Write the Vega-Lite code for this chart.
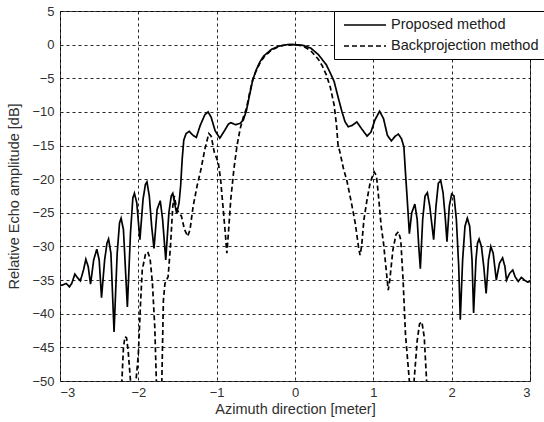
{
  "$schema": "https://vega.github.io/schema/vega-lite/v6.json",
  "width": 470,
  "height": 370,
  "autosize": "none",
  "padding": {"left": 60, "top": 11, "right": 14, "bottom": 41},
  "background": "white",
  "data": {"values": [
    {"method":"Proposed method","x":-3.0,"y":-35.8},{"method":"Proposed method","x":-2.96,"y":-35.7},{"method":"Proposed method","x":-2.92,"y":-35.5},{"method":"Proposed method","x":-2.88,"y":-36.0},{"method":"Proposed method","x":-2.85,"y":-35.5},{"method":"Proposed method","x":-2.81,"y":-34.1},{"method":"Proposed method","x":-2.78,"y":-34.6},{"method":"Proposed method","x":-2.74,"y":-35.1},{"method":"Proposed method","x":-2.70,"y":-33.5},{"method":"Proposed method","x":-2.67,"y":-31.9},{"method":"Proposed method","x":-2.64,"y":-33},{"method":"Proposed method","x":-2.61,"y":-35.6},{"method":"Proposed method","x":-2.57,"y":-32},{"method":"Proposed method","x":-2.53,"y":-30.4},{"method":"Proposed method","x":-2.50,"y":-32},{"method":"Proposed method","x":-2.47,"y":-37.6},{"method":"Proposed method","x":-2.43,"y":-32},{"method":"Proposed method","x":-2.40,"y":-29.5},{"method":"Proposed method","x":-2.38,"y":-28.9},{"method":"Proposed method","x":-2.35,"y":-31},{"method":"Proposed method","x":-2.31,"y":-42.7},{"method":"Proposed method","x":-2.27,"y":-31},{"method":"Proposed method","x":-2.24,"y":-26.5},{"method":"Proposed method","x":-2.22,"y":-25.8},{"method":"Proposed method","x":-2.19,"y":-27.5},{"method":"Proposed method","x":-2.14,"y":-39.0},{"method":"Proposed method","x":-2.10,"y":-28},{"method":"Proposed method","x":-2.07,"y":-22.8},{"method":"Proposed method","x":-2.05,"y":-22.1},{"method":"Proposed method","x":-2.02,"y":-23.5},{"method":"Proposed method","x":-1.98,"y":-29.0},{"method":"Proposed method","x":-1.94,"y":-23},{"method":"Proposed method","x":-1.91,"y":-20.8},{"method":"Proposed method","x":-1.89,"y":-20.4},{"method":"Proposed method","x":-1.86,"y":-22.5},{"method":"Proposed method","x":-1.83,"y":-27},{"method":"Proposed method","x":-1.80,"y":-30.3},{"method":"Proposed method","x":-1.76,"y":-24.5},{"method":"Proposed method","x":-1.72,"y":-23.2},{"method":"Proposed method","x":-1.69,"y":-26},{"method":"Proposed method","x":-1.65,"y":-32.0},{"method":"Proposed method","x":-1.61,"y":-25},{"method":"Proposed method","x":-1.58,"y":-22.5},{"method":"Proposed method","x":-1.56,"y":-22.1},{"method":"Proposed method","x":-1.53,"y":-24},{"method":"Proposed method","x":-1.51,"y":-25.1},{"method":"Proposed method","x":-1.48,"y":-23.5},{"method":"Proposed method","x":-1.46,"y":-21},{"method":"Proposed method","x":-1.44,"y":-17},{"method":"Proposed method","x":-1.42,"y":-14.2},{"method":"Proposed method","x":-1.39,"y":-13.2},{"method":"Proposed method","x":-1.35,"y":-12.9},{"method":"Proposed method","x":-1.30,"y":-13.5},{"method":"Proposed method","x":-1.26,"y":-13.8},{"method":"Proposed method","x":-1.21,"y":-12},{"method":"Proposed method","x":-1.15,"y":-10.4},{"method":"Proposed method","x":-1.11,"y":-10.0},{"method":"Proposed method","x":-1.07,"y":-10.8},{"method":"Proposed method","x":-1.02,"y":-12.8},{"method":"Proposed method","x":-0.96,"y":-13.9},{"method":"Proposed method","x":-0.90,"y":-12.8},{"method":"Proposed method","x":-0.85,"y":-11.8},{"method":"Proposed method","x":-0.82,"y":-11.6},{"method":"Proposed method","x":-0.76,"y":-11.9},{"method":"Proposed method","x":-0.70,"y":-11.7},{"method":"Proposed method","x":-0.66,"y":-11.2},{"method":"Proposed method","x":-0.62,"y":-9.8},{"method":"Proposed method","x":-0.58,"y":-7.5},{"method":"Proposed method","x":-0.54,"y":-5.3},{"method":"Proposed method","x":-0.50,"y":-3.9},{"method":"Proposed method","x":-0.45,"y":-2.6},{"method":"Proposed method","x":-0.40,"y":-1.7},{"method":"Proposed method","x":-0.30,"y":-0.7},{"method":"Proposed method","x":-0.20,"y":-0.2},{"method":"Proposed method","x":-0.10,"y":0},{"method":"Proposed method","x":0,"y":0},{"method":"Proposed method","x":0.1,"y":-0.1},{"method":"Proposed method","x":0.2,"y":-0.5},{"method":"Proposed method","x":0.3,"y":-1.5},{"method":"Proposed method","x":0.4,"y":-3.0},{"method":"Proposed method","x":0.45,"y":-4.2},{"method":"Proposed method","x":0.5,"y":-5.5},{"method":"Proposed method","x":0.55,"y":-7.8},{"method":"Proposed method","x":0.6,"y":-10},{"method":"Proposed method","x":0.64,"y":-11.5},{"method":"Proposed method","x":0.68,"y":-12.2},{"method":"Proposed method","x":0.73,"y":-12.0},{"method":"Proposed method","x":0.79,"y":-11.5},{"method":"Proposed method","x":0.85,"y":-12.5},{"method":"Proposed method","x":0.92,"y":-13.6},{"method":"Proposed method","x":0.97,"y":-13.0},{"method":"Proposed method","x":1.02,"y":-11.2},{"method":"Proposed method","x":1.08,"y":-9.9},{"method":"Proposed method","x":1.13,"y":-11.0},{"method":"Proposed method","x":1.18,"y":-13.5},{"method":"Proposed method","x":1.23,"y":-14.3},{"method":"Proposed method","x":1.28,"y":-13.6},{"method":"Proposed method","x":1.32,"y":-13.3},{"method":"Proposed method","x":1.36,"y":-14},{"method":"Proposed method","x":1.39,"y":-15.2},{"method":"Proposed method","x":1.41,"y":-19},{"method":"Proposed method","x":1.43,"y":-22.5},{"method":"Proposed method","x":1.46,"y":-28.1},{"method":"Proposed method","x":1.49,"y":-25},{"method":"Proposed method","x":1.53,"y":-23.7},{"method":"Proposed method","x":1.56,"y":-26},{"method":"Proposed method","x":1.58,"y":-30},{"method":"Proposed method","x":1.60,"y":-33.3},{"method":"Proposed method","x":1.63,"y":-26},{"method":"Proposed method","x":1.66,"y":-22.5},{"method":"Proposed method","x":1.69,"y":-22},{"method":"Proposed method","x":1.72,"y":-24},{"method":"Proposed method","x":1.75,"y":-27},{"method":"Proposed method","x":1.77,"y":-29},{"method":"Proposed method","x":1.80,"y":-24},{"method":"Proposed method","x":1.83,"y":-20.6},{"method":"Proposed method","x":1.86,"y":-20.2},{"method":"Proposed method","x":1.89,"y":-22},{"method":"Proposed method","x":1.92,"y":-26},{"method":"Proposed method","x":1.94,"y":-29.3},{"method":"Proposed method","x":1.97,"y":-24},{"method":"Proposed method","x":2.00,"y":-22.2},{"method":"Proposed method","x":2.03,"y":-22.5},{"method":"Proposed method","x":2.06,"y":-26},{"method":"Proposed method","x":2.09,"y":-33},{"method":"Proposed method","x":2.11,"y":-40.9},{"method":"Proposed method","x":2.14,"y":-32},{"method":"Proposed method","x":2.17,"y":-27},{"method":"Proposed method","x":2.20,"y":-25.8},{"method":"Proposed method","x":2.23,"y":-27},{"method":"Proposed method","x":2.26,"y":-32},{"method":"Proposed method","x":2.28,"y":-39.9},{"method":"Proposed method","x":2.31,"y":-32},{"method":"Proposed method","x":2.33,"y":-29.5},{"method":"Proposed method","x":2.35,"y":-28.9},{"method":"Proposed method","x":2.38,"y":-30},{"method":"Proposed method","x":2.41,"y":-33},{"method":"Proposed method","x":2.44,"y":-37.0},{"method":"Proposed method","x":2.47,"y":-32},{"method":"Proposed method","x":2.50,"y":-30.0},{"method":"Proposed method","x":2.53,"y":-31},{"method":"Proposed method","x":2.57,"y":-35.0},{"method":"Proposed method","x":2.61,"y":-32.5},{"method":"Proposed method","x":2.65,"y":-31.7},{"method":"Proposed method","x":2.68,"y":-33},{"method":"Proposed method","x":2.70,"y":-35.0},{"method":"Proposed method","x":2.74,"y":-34},{"method":"Proposed method","x":2.78,"y":-33.5},{"method":"Proposed method","x":2.81,"y":-34.5},{"method":"Proposed method","x":2.85,"y":-35.2},{"method":"Proposed method","x":2.89,"y":-34.6},{"method":"Proposed method","x":2.93,"y":-35},{"method":"Proposed method","x":2.97,"y":-35.3},{"method":"Proposed method","x":3.0,"y":-35.2},
    {"method":"Backprojection method","x":-2.26,"y":-60},{"method":"Backprojection method","x":-2.21,"y":-50},{"method":"Backprojection method","x":-2.19,"y":-45},{"method":"Backprojection method","x":-2.17,"y":-43.4},{"method":"Backprojection method","x":-2.15,"y":-43.6},{"method":"Backprojection method","x":-2.13,"y":-45.5},{"method":"Backprojection method","x":-2.10,"y":-50},{"method":"Backprojection method","x":-2.07,"y":-60},{"method":"Backprojection method","x":-2.05,"y":-60},{"method":"Backprojection method","x":-2.03,"y":-50},{"method":"Backprojection method","x":-2.00,"y":-46},{"method":"Backprojection method","x":-1.97,"y":-38},{"method":"Backprojection method","x":-1.95,"y":-33.5},{"method":"Backprojection method","x":-1.91,"y":-31.2},{"method":"Backprojection method","x":-1.88,"y":-30.8},{"method":"Backprojection method","x":-1.85,"y":-31.8},{"method":"Backprojection method","x":-1.82,"y":-35.5},{"method":"Backprojection method","x":-1.79,"y":-42},{"method":"Backprojection method","x":-1.77,"y":-50},{"method":"Backprojection method","x":-1.74,"y":-60},{"method":"Backprojection method","x":-1.72,"y":-60},{"method":"Backprojection method","x":-1.70,"y":-50},{"method":"Backprojection method","x":-1.68,"y":-38},{"method":"Backprojection method","x":-1.66,"y":-35.5},{"method":"Backprojection method","x":-1.62,"y":-34.5},{"method":"Backprojection method","x":-1.59,"y":-30},{"method":"Backprojection method","x":-1.56,"y":-24},{"method":"Backprojection method","x":-1.54,"y":-22.5},{"method":"Backprojection method","x":-1.51,"y":-24.5},{"method":"Backprojection method","x":-1.48,"y":-25},{"method":"Backprojection method","x":-1.45,"y":-25.5},{"method":"Backprojection method","x":-1.41,"y":-27.5},{"method":"Backprojection method","x":-1.37,"y":-28.5},{"method":"Backprojection method","x":-1.34,"y":-27.5},{"method":"Backprojection method","x":-1.30,"y":-24},{"method":"Backprojection method","x":-1.25,"y":-21},{"method":"Backprojection method","x":-1.20,"y":-18.5},{"method":"Backprojection method","x":-1.15,"y":-15.5},{"method":"Backprojection method","x":-1.10,"y":-13.2},{"method":"Backprojection method","x":-1.07,"y":-13.6},{"method":"Backprojection method","x":-1.03,"y":-16},{"method":"Backprojection method","x":-0.98,"y":-17.5},{"method":"Backprojection method","x":-0.95,"y":-20},{"method":"Backprojection method","x":-0.92,"y":-24},{"method":"Backprojection method","x":-0.89,"y":-28},{"method":"Backprojection method","x":-0.87,"y":-31},{"method":"Backprojection method","x":-0.85,"y":-28},{"method":"Backprojection method","x":-0.82,"y":-23},{"method":"Backprojection method","x":-0.78,"y":-18.5},{"method":"Backprojection method","x":-0.74,"y":-15},{"method":"Backprojection method","x":-0.70,"y":-12.5},{"method":"Backprojection method","x":-0.66,"y":-10.8},{"method":"Backprojection method","x":-0.62,"y":-9.5},{"method":"Backprojection method","x":-0.58,"y":-7.2},{"method":"Backprojection method","x":-0.54,"y":-5.2},{"method":"Backprojection method","x":-0.50,"y":-4.0},{"method":"Backprojection method","x":-0.45,"y":-2.8},{"method":"Backprojection method","x":-0.40,"y":-1.9},{"method":"Backprojection method","x":-0.30,"y":-0.8},{"method":"Backprojection method","x":-0.20,"y":-0.25},{"method":"Backprojection method","x":-0.10,"y":0},{"method":"Backprojection method","x":0,"y":0},{"method":"Backprojection method","x":0.1,"y":-0.2},{"method":"Backprojection method","x":0.2,"y":-0.9},{"method":"Backprojection method","x":0.3,"y":-2.2},{"method":"Backprojection method","x":0.35,"y":-3.2},{"method":"Backprojection method","x":0.4,"y":-4.5},{"method":"Backprojection method","x":0.45,"y":-6.3},{"method":"Backprojection method","x":0.5,"y":-9},{"method":"Backprojection method","x":0.53,"y":-12},{"method":"Backprojection method","x":0.55,"y":-15},{"method":"Backprojection method","x":0.57,"y":-15.8},{"method":"Backprojection method","x":0.62,"y":-18.5},{"method":"Backprojection method","x":0.66,"y":-20.1},{"method":"Backprojection method","x":0.72,"y":-23.5},{"method":"Backprojection method","x":0.77,"y":-26.6},{"method":"Backprojection method","x":0.81,"y":-30},{"method":"Backprojection method","x":0.83,"y":-31.3},{"method":"Backprojection method","x":0.85,"y":-30},{"method":"Backprojection method","x":0.88,"y":-26},{"method":"Backprojection method","x":0.92,"y":-23},{"method":"Backprojection method","x":0.96,"y":-20.5},{"method":"Backprojection method","x":1.01,"y":-18.9},{"method":"Backprojection method","x":1.04,"y":-19.5},{"method":"Backprojection method","x":1.07,"y":-23},{"method":"Backprojection method","x":1.10,"y":-27},{"method":"Backprojection method","x":1.13,"y":-29.5},{"method":"Backprojection method","x":1.16,"y":-33},{"method":"Backprojection method","x":1.19,"y":-36.5},{"method":"Backprojection method","x":1.21,"y":-35},{"method":"Backprojection method","x":1.25,"y":-30.5},{"method":"Backprojection method","x":1.29,"y":-28.2},{"method":"Backprojection method","x":1.32,"y":-27.8},{"method":"Backprojection method","x":1.35,"y":-29},{"method":"Backprojection method","x":1.38,"y":-35},{"method":"Backprojection method","x":1.41,"y":-43},{"method":"Backprojection method","x":1.46,"y":-50},{"method":"Backprojection method","x":1.49,"y":-60},{"method":"Backprojection method","x":1.52,"y":-50},{"method":"Backprojection method","x":1.56,"y":-44},{"method":"Backprojection method","x":1.59,"y":-41.5},{"method":"Backprojection method","x":1.62,"y":-41.2},{"method":"Backprojection method","x":1.65,"y":-43.5},{"method":"Backprojection method","x":1.68,"y":-50},{"method":"Backprojection method","x":1.71,"y":-60}
  ]},
  "mark": {"type": "line", "clip": true, "color": "black", "strokeWidth": 1.7},
  "encoding": {
    "x": {"field": "x", "type": "quantitative", "scale": {"domain": [-3, 3], "nice": false, "zero": false},
      "axis": {"values": [-3, -2, -1, 0, 1, 2, 3], "title": "Azimuth direction [meter]", "labelPadding": 5, "titlePadding": 3}},
    "y": {"field": "y", "type": "quantitative", "scale": {"domain": [-50, 5], "nice": false, "zero": false},
      "axis": {"values": [-50, -45, -40, -35, -30, -25, -20, -15, -10, -5, 0, 5], "title": "Relative Echo amplitude [dB]", "labelPadding": 6, "titlePadding": 10}},
    "strokeDash": {"field": "method", "type": "nominal",
      "scale": {"domain": ["Proposed method", "Backprojection method"], "range": [[1, 0], [5, 3]]},
      "legend": {"title": null}}
  },
  "config": {
    "font": "Liberation Sans",
    "view": {"stroke": "#404040", "strokeWidth": 1},
    "axis": {
      "domain": false, "ticks": false,
      "grid": true, "gridColor": "#000", "gridDash": [3, 3], "gridWidth": 1, "gridOpacity": 0.85,
      "labelFont": "Liberation Sans", "labelFontSize": 13, "labelColor": "#303030",
      "titleFont": "Liberation Sans", "titleFontSize": 14.5, "titleFontWeight": "normal", "titleColor": "#303030"
    },
    "legend": {
      "orient": "none", "legendX": 274, "legendY": 0,
      "fillColor": "white", "strokeColor": "#000", "padding": 6,
      "symbolType": "M-1,0H5", "symbolSize": 196, "symbolStrokeWidth": 1.7, "symbolStrokeColor": "black", "symbolOffset": 3,
      "labelFont": "Liberation Sans", "labelFontSize": 14.5, "labelColor": "#202020", "labelOffset": 32,
      "rowPadding": 6, "labelLimit": 300
    }
  }
}
